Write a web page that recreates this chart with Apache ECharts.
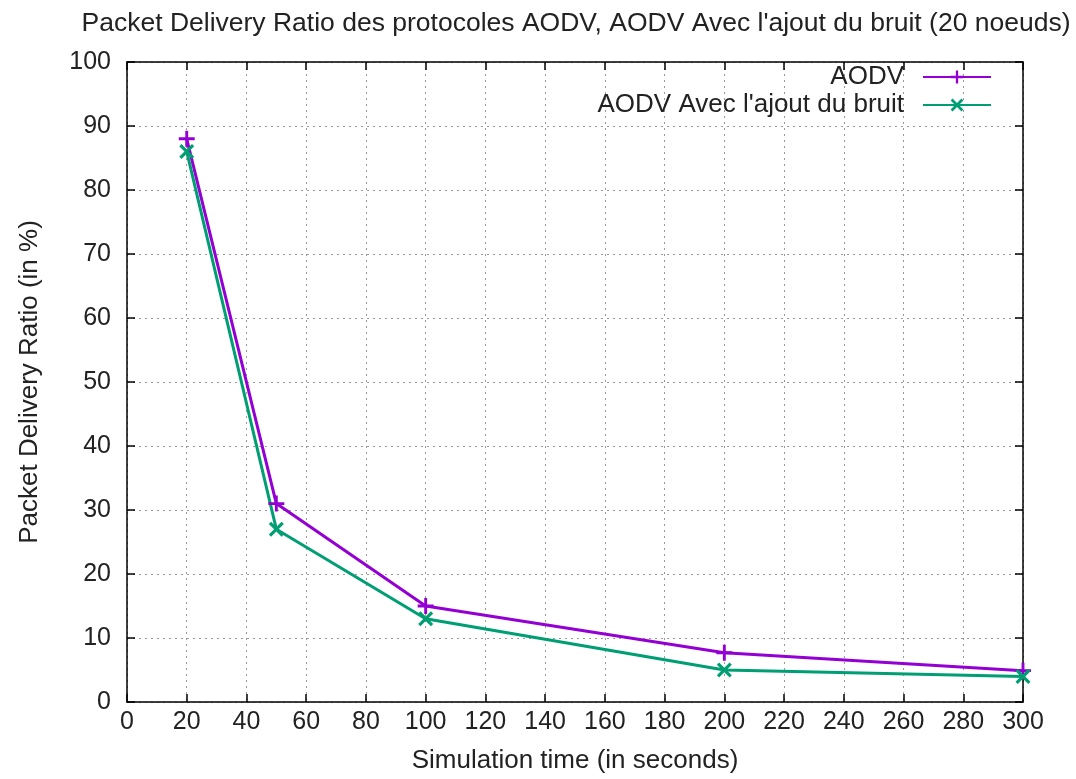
<!DOCTYPE html>
<html>
<head>
<meta charset="utf-8">
<script src="https://cdn.jsdelivr.net/npm/echarts@6/dist/echarts.min.js"></script>
<style>
  html, body { margin: 0; padding: 0; background: #fff; }
  #chart { width: 1076px; height: 779px; }
</style>
</head>
<body>
<div id="chart"></div>
<script>
// data
const times = [20, 50, 100, 200, 300]
const aodv = [88, 31, 15, 7.7, 4.9]
const aodvBruit = [86, 27, 13, 5, 4]
const seriesNames = ['AODV', "AODV Avec l'ajout du bruit"]

// gnuplot-like point types: plus and cross
const plusPath = 'path://M4.1,0H5.9V4.1H10V5.9H5.9V10H4.1V5.9H0V4.1H4.1Z'
const crossPath = 'path://M0,1.5L1.5,0L5,3.5L8.5,0L10,1.5L6.5,5L10,8.5L8.5,10L5,6.5L1.5,10L0,8.5L3.5,5Z'

const font = 'Liberation Sans, Arial, sans-serif'
const gridLine = { show: true, lineStyle: { color: '#999', type: [2, 4], width: 1 } }
const frame = { show: true, onZero: false, lineStyle: { color: '#000', width: 1.5 } }
const ticks = { show: true, inside: true, length: 8, lineStyle: { color: '#000', width: 1.5 } }

const chart = echarts.init(document.getElementById('chart'))

const legendBase = {
  orient: 'vertical',
  right: 79,
  align: 'right',
  itemWidth: 68,
  itemHeight: 16,
  textStyle: { fontFamily: font, fontSize: 26, color: '#222', padding: [0, 14, 0, 0] }
}

chart.setOption({
  animation: false,
  title: {
    text: "Packet Delivery Ratio des protocoles AODV, AODV Avec l'ajout du bruit (20 noeuds)",
    left: 571,
    textAlign: 'center',
    top: 5,
    textStyle: { fontFamily: font, fontSize: 26.5, fontWeight: 'normal', color: '#222' }
  },
  legend: [
    Object.assign({ data: [seriesNames[0]], top: 59 }, legendBase),
    Object.assign({ data: [seriesNames[1]], top: 87 }, legendBase)
  ],
  grid: { left: 127, right: 53, top: 62, bottom: 77 },
  xAxis: [
    {
      type: 'value', min: 0, max: 300, interval: 20,
      name: 'Simulation time (in seconds)',
      nameLocation: 'middle', nameGap: 46,
      nameTextStyle: { fontFamily: font, fontSize: 26, color: '#222' },
      axisLine: frame,
      axisTick: ticks,
      axisLabel: { fontFamily: font, fontSize: 25, color: '#222', margin: 8 },
      splitLine: gridLine
    },
    {
      type: 'value', min: 0, max: 300, interval: 20, position: 'top',
      axisLine: frame,
      axisTick: ticks,
      axisLabel: { show: false },
      splitLine: { show: false }
    }
  ],
  yAxis: [
    {
      type: 'value', min: 0, max: 100, interval: 10,
      name: 'Packet Delivery Ratio (in %)',
      nameLocation: 'middle', nameGap: 84, nameRotate: 90,
      nameTextStyle: { fontFamily: font, fontSize: 26, color: '#222' },
      axisLine: frame,
      axisTick: ticks,
      axisLabel: { fontFamily: font, fontSize: 25, color: '#222', margin: 16 },
      splitLine: gridLine
    },
    {
      type: 'value', min: 0, max: 100, interval: 10, position: 'right',
      axisLine: frame,
      axisTick: ticks,
      axisLabel: { show: false },
      splitLine: { show: false }
    }
  ],
  series: [
    {
      name: seriesNames[0],
      type: 'line',
      data: times.map((t, i) => [t, aodv[i]]),
      symbol: plusPath,
      symbolSize: 16,
      showAllSymbol: true,
      itemStyle: { color: '#9400d3' },
      lineStyle: { color: '#9400d3', width: 3 }
    },
    {
      name: seriesNames[1],
      type: 'line',
      data: times.map((t, i) => [t, aodvBruit[i]]),
      symbol: crossPath,
      symbolSize: 15,
      showAllSymbol: true,
      itemStyle: { color: '#009e73' },
      lineStyle: { color: '#009e73', width: 3 }
    }
  ]
})
</script>
</body>
</html>
